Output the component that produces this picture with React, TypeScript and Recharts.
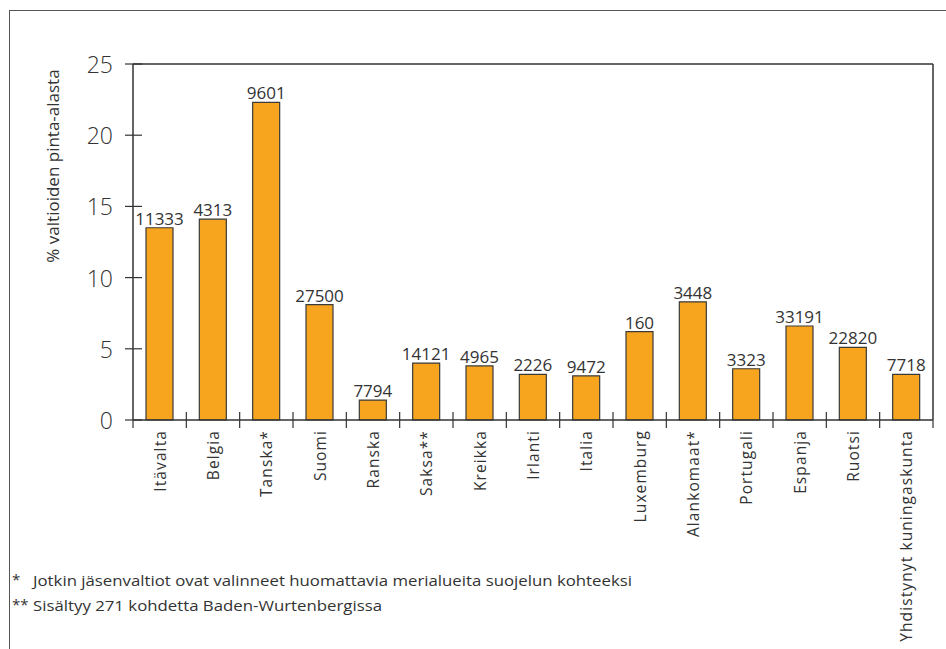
import { BarChart, Bar, XAxis, YAxis, LabelList } from 'recharts'

// Protected-area share per member state (% of land area) and site counts
const countries = [
  'Itävalta',
  'Belgia',
  'Tanska*',
  'Suomi',
  'Ranska',
  'Saksa**',
  'Kreikka',
  'Irlanti',
  'Italia',
  'Luxemburg',
  'Alankomaat*',
  'Portugali',
  'Espanja',
  'Ruotsi',
  'Yhdistynyt kuningaskunta',
]
const sharePct = [13.5, 14.1, 22.3, 8.1, 1.4, 4.0, 3.8, 3.2, 3.1, 6.2, 8.3, 3.6, 6.6, 5.1, 3.2]
const siteCounts = [11333, 4313, 9601, 27500, 7794, 14121, 4965, 2226, 9472, 160, 3448, 3323, 33191, 22820, 7718]
const yTicks = [0, 5, 10, 15, 20, 25]

const data = countries.map((name, i) => ({ name, value: sharePct[i], sites: siteCounts[i] }))

const W = 946
const H = 649
const PLOT_LEFT = 133
const PLOT_RIGHT = 933
const BAND = (PLOT_RIGHT - PLOT_LEFT) / countries.length
const INK = '#333'
const FONT = '"Open Sans", "Noto Sans", sans-serif'

function ValueTick({ x, y, payload }: any) {
  // tx = axis - tickSize(8) - tickMargin(12)
  const axisX = x + 20
  return (
    <g>
      <line x1={axisX - 8} x2={axisX + 9} y1={y} y2={y} stroke={INK} strokeWidth={1.2} />
      <text x={x} y={y} textAnchor="end" dominantBaseline="central" fill={INK} fontSize={23} fontFamily={FONT} fontWeight={300}>
        {payload.value}
      </text>
    </g>
  )
}

function CountryTick({ x, y, payload, index }: any) {
  // ty = axis + tickSize(8) + tickMargin(2)
  const axisY = y - 10
  const left = x - BAND / 2
  const right = x + BAND / 2
  return (
    <g>
      <line x1={left} x2={left} y1={index === 0 ? axisY : axisY - 8} y2={axisY + 8} stroke={INK} strokeWidth={1.2} />
      {index === countries.length - 1 && (
        <line x1={right} x2={right} y1={axisY} y2={axisY + 8} stroke={INK} strokeWidth={1.2} />
      )}
      <text
        x={x}
        y={y}
        transform={`rotate(-90, ${x}, ${y})`}
        textAnchor="end"
        dominantBaseline="central"
        fill={INK}
        fontSize={15.5}
        letterSpacing={1.1}
        fontFamily={FONT}
      >
        {payload.value}
      </text>
    </g>
  )
}

export default function App() {
  return (
    <div style={{ position: 'absolute', left: 0, top: 0, width: W, height: H, background: '#fff', overflow: 'hidden' }}>
      {/* outer frame */}
      <div style={{ position: 'absolute', left: 9, top: 10, width: W, height: H, borderLeft: '1.5px solid #555', borderTop: '1.5px solid #555' }} />
      <BarChart
        width={W}
        height={H}
        data={data}
        margin={{ top: 63, right: 12, left: 73, bottom: 109 }}
        barCategoryGap={0}
      >
        <XAxis
          dataKey="name"
          interval={0}
          height={120}
          tickSize={8}
          tickMargin={2}
          tickLine={false}
          axisLine={{ stroke: INK, strokeWidth: 1.5 }}
          tick={<CountryTick />}
        />
        <XAxis
          xAxisId="top"
          dataKey="name"
          orientation="top"
          height={1}
          tick={false}
          tickLine={false}
          axisLine={{ stroke: INK, strokeWidth: 1.5 }}
        />
        <YAxis
          width={60}
          domain={[0, 25]}
          ticks={yTicks}
          tickSize={8}
          tickMargin={12}
          tickLine={false}
          axisLine={{ stroke: INK, strokeWidth: 1.5 }}
          tick={<ValueTick />}
          label={{
            content: () => (
              <text
                x={52}
                y={166}
                transform="rotate(-90, 52, 166)"
                textAnchor="middle"
                dominantBaseline="central"
                fill={INK}
                fontSize={17}
                fontFamily={FONT}
              >
                % valtioiden pinta-alasta
              </text>
            ),
          }}
        />
        <YAxis
          yAxisId="right"
          orientation="right"
          width={1}
          domain={[0, 25]}
          tick={false}
          tickLine={false}
          axisLine={{ stroke: INK, strokeWidth: 1.5 }}
        />
        <Bar dataKey="value" fill="#F7A51E" stroke="#3a3a3a" strokeWidth={1.2} barSize={27} isAnimationActive={false}>
          <LabelList dataKey="sites" position="top" offset={3} fill={INK} fontSize={17} fontFamily={FONT} />
        </Bar>
      </BarChart>
      {/* footnotes */}
      <svg width={W} height={H} style={{ position: 'absolute', left: 0, top: 0, pointerEvents: 'none' }}>
        <g fill={INK} fontSize={15} fontFamily={FONT}>
          <text x={12} y={585}>*</text>
          <text x={33} y={586} textLength={599} lengthAdjust="spacingAndGlyphs">
            Jotkin jäsenvaltiot ovat valinneet huomattavia merialueita suojelun kohteeksi
          </text>
          <text x={12} y={610}>**</text>
          <text x={33} y={611} textLength={349} lengthAdjust="spacingAndGlyphs">
            Sisältyy 271 kohdetta Baden-Wurtenbergissa
          </text>
        </g>
      </svg>
    </div>
  )
}
